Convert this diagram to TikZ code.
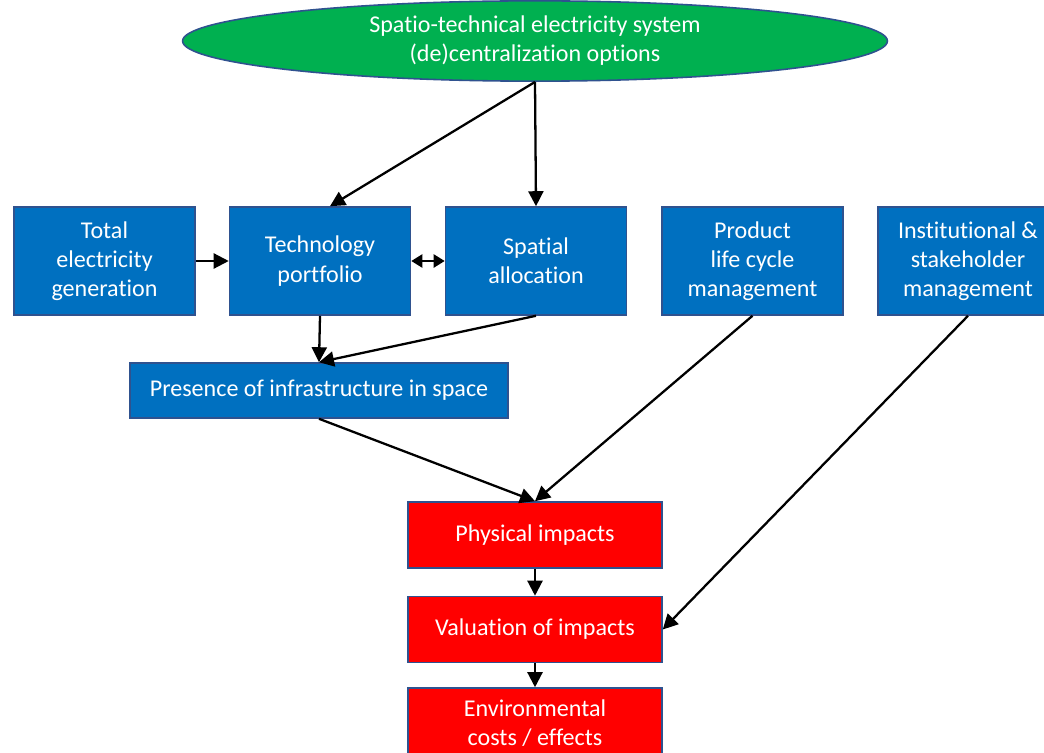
\documentclass[tikz,border=0pt]{standalone}
\usepackage{fontspec}
\setmainfont{Carlito}[Ligatures=NoCommon]
\usepackage{tikz}
\usetikzlibrary{arrows.meta,shapes.geometric}

\definecolor{offblue}{RGB}{0,112,192}
\definecolor{offgreen}{RGB}{0,176,80}
\definecolor{offred}{RGB}{255,0,0}
\definecolor{edgeblue}{RGB}{47,82,143}

\tikzset{
    box/.style={draw=edgeblue,line width=0.9pt,fill=offblue,text=white,
        align=center,font=\fontsize{13.7}{16.6}\selectfont,inner sep=2pt},
    topbox/.style={box,minimum width=3.62cm,minimum height=2.16cm},
    impbox/.style={box,fill=offred,minimum width=5.08cm,minimum height=1.32cm},
    arr/.style={line width=1.3pt,-{Triangle[length=0.3cm,width=0.3cm]}},
    dblarr/.style={line width=1.3pt,{Triangle[length=0.22cm,width=0.26cm]}-{Triangle[length=0.22cm,width=0.26cm]}}
}

\begin{document}
\begin{tikzpicture}[x=0.02cm,y=-0.02cm]
    \useasboundingbox (0,0) rectangle (1044,753);

    % top ellipse
    \node[ellipse,box,fill=offgreen,minimum width=14.1cm,minimum height=1.6cm]
        (sys) at (535,41) {Spatio-technical electricity system\\(de)centralization options};

    % row of blue boxes
    \node[topbox] (total) at (104.5,261) {Total\\electricity\\generation};
    \node[topbox] (tech) at (320,261) {Technology\\portfolio};
    \node[topbox] (spat) at (536,261) {Spatial\\allocation};
    \node[topbox] (prod) at (752.5,261) {Product\\life cycle\\management};
    \node[topbox,minimum width=3.6cm] (inst) at (968,261) {Institutional \&\\stakeholder\\management};

    \node[box,minimum width=7.56cm,minimum height=1.1cm] (pres) at (319,390.5)
        {Presence of infrastructure in space};

    % impacts
    \node[impbox] (phys) at (535,535) {Physical impacts};
    \node[impbox] (valu) at (535,629.5) {Valuation of impacts};
    \node[impbox,minimum height=1.4cm] (env) at (535,723) {Environmental\\costs / effects};

    % connectors
    \draw[arr] (sys.south) -- ([xshift=0.2cm]tech.north);
    \draw[arr] (sys.south) -- (spat.north);
    \draw[arr] (total.east) -- (tech.west);
    \draw[dblarr] (tech.east) -- (spat.west);
    \draw[arr] (tech.south) -- (pres.north);
    \draw[arr] (spat.south) -- (pres.north);
    \draw[arr] (pres.south) -- (phys.north);
    \draw[arr] (prod.south) -- (phys.north);
    \draw[arr] (inst.south) -- (valu.east);
    \draw[arr] (phys.south) -- (valu.north);
    \draw[arr] (valu.south) -- (env.north);
\end{tikzpicture}
\end{document}
